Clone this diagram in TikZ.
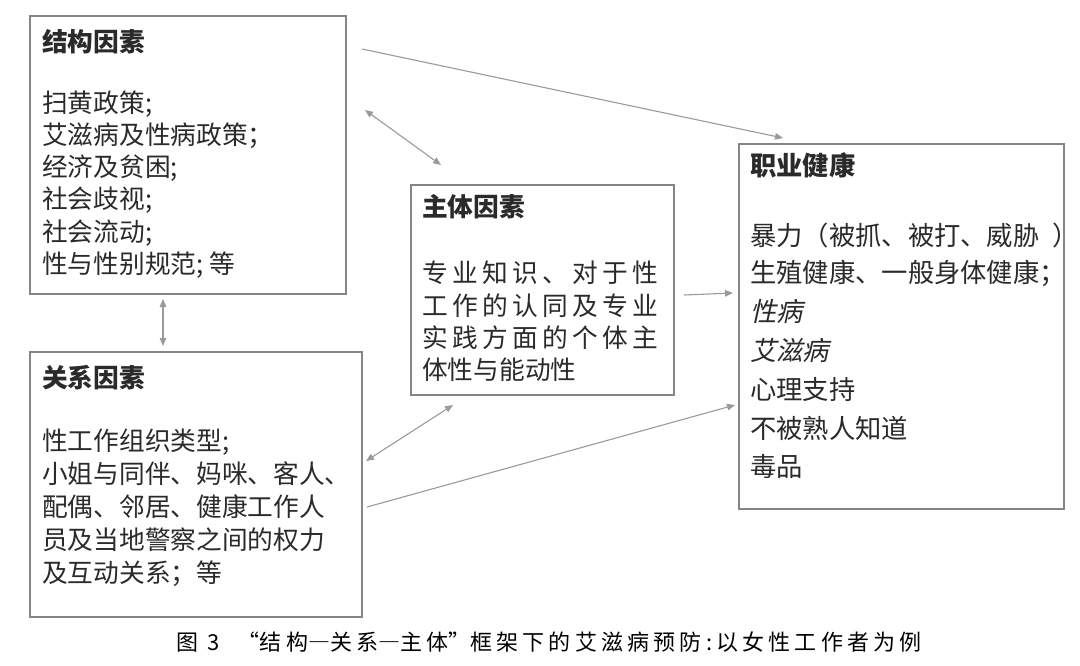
\documentclass[tikz,border=0pt]{standalone}
\usepackage{fontspec}
\setmainfont{Noto Sans CJK SC}
\newfontfamily\cjkit[FakeSlant=0.22]{Noto Sans CJK SC}
\newfontfamily\capfont[LetterSpace=19]{Noto Sans CJK SC}
\newfontfamily\capfw[LetterSpace=19,RawFeature=+fwid]{Noto Sans CJK SC}
\usetikzlibrary{arrows.meta}
\definecolor{boxc}{HTML}{858585}
\definecolor{arrc}{HTML}{9A9A9A}
\definecolor{textc}{HTML}{2A2A2A}
\tikzset{
  box/.style={draw=boxc, line width=1.6pt, anchor=north west, inner sep=0pt},
  txt/.style={anchor=base west, inner sep=0pt, text=textc, font=\fontsize{25.7}{30}\selectfont},
  rtxt/.style={anchor=base west, inner sep=0pt, text=textc, font=\fontsize{26.3}{30}\selectfont},
  ttl/.style={txt, font=\fontsize{25.7}{30}\selectfont\bfseries},
  conn/.style={draw=arrc, line width=1.1pt},
  one/.style={conn, -{Triangle[length=8pt,width=6.5pt]}},
  two/.style={conn, {Triangle[length=8pt,width=6.5pt]}-{Triangle[length=8pt,width=6.5pt]}}
}
\begin{document}
\begin{tikzpicture}[x=1pt,y=-1pt]
\fill[white] (0,0) rectangle (1080,666);
\useasboundingbox (0,0) rectangle (1080,666);

% boxes
\node[box, minimum width=316pt, minimum height=278pt] (jg) at (29,15) {};
\node[box, minimum width=332pt, minimum height=265pt] (gx) at (29,351) {};
\node[box, minimum width=263pt, minimum height=210pt] (zt) at (410,184) {};
\node[box, minimum width=325pt, minimum height=365pt] (zy) at (738,143) {};

% 结构因素
\node[ttl] (jgt) at (42,52) {结构因素};
\foreach \t [count=\i] in {扫黄政策;, 艾滋病及性病政策；, 经济及贫困;, 社会歧视;, 社会流动;, 性与性别规范; 等}
  \node[txt] (jg\i) at (42,{113+(\i-1)*32}) {\t};

% 关系因素
\node[ttl] (gxt) at (42,387) {关系因素};
\foreach \t [count=\i] in {性工作组织类型;, 小姐与同伴、妈咪、客人、, 配偶、邻居、健康工作人, 员及当地警察之间的权力, 及互动关系；等}
  \node[txt] (gx\i) at (42,{450+(\i-1)*33}) {\t};

% 主体因素
\node[ttl] (ztt) at (422,217) {主体因素};
\node[txt] (zt1) at (422,282) {\makebox[236pt][s]{专\hfill 业\hfill 知\hfill 识\hfill 、\hfill 对\hfill 于\hfill 性}};
\node[txt] (zt2) at (422,315) {\makebox[236pt][s]{工\hfill 作\hfill 的\hfill 认\hfill 同\hfill 及\hfill 专\hfill 业}};
\node[txt] (zt3) at (422,347) {\makebox[236pt][s]{实\hfill 践\hfill 方\hfill 面\hfill 的\hfill 个\hfill 体\hfill 主}};
\node[txt] (zt4) at (422,379) {体性与能动性};

% 职业健康
\node[ttl, font=\fontsize{26.3}{30}\selectfont\bfseries] (zyt) at (750,176) {职业健康};
\begin{scope}
\clip (zy.north west) rectangle (zy.south east);
\node[rtxt] (zy1) at (750,246) {暴力（被抓、被打、威胁\hspace{13pt}）};
\end{scope}
\draw[boxc, line width=1.6pt] (zy.north east) -- (zy.south east);
\node[rtxt] (zy2) at (750,282) {生殖健康、一般身体健康；};
\node[rtxt] (zy3) at (750,321) {\cjkit 性病};
\node[rtxt] (zy4) at (750,360) {\cjkit 艾滋病};
\node[rtxt] (zy5) at (750,399) {心理支持};
\node[rtxt] (zy6) at (750,438) {不被熟人知道};
\node[rtxt] (zy7) at (750,476) {毒品};

% connector ends
\coordinate (a1s) at (362,49);  \coordinate (a1e) at (783,138);
\coordinate (a2s) at (365,110); \coordinate (a2e) at (441,165);
\coordinate (a3s) at (163,299); \coordinate (a3e) at (163,346);
\coordinate (a4s) at (684,295); \coordinate (a4e) at (733,293);
\coordinate (a5s) at (366,461); \coordinate (a5e) at (453,405);
\coordinate (a6s) at (367,507); \coordinate (a6e) at (735,405);

\draw[one] (a1s) -- (a1e);
\draw[two] (a2s) -- (a2e);
\draw[two] (a3s) -- (a3e);
\draw[one] (a4s) -- (a4e);
\draw[two] (a5s) -- (a5e);
\draw[one] (a6s) -- (a6e);

% caption
\node[anchor=base, inner sep=0pt, text=black, font=\fontsize{22}{26}\selectfont\capfont] (cap) at (549,650) {图 3\ \ {\capfw “}结构{\capfw —}关系{\capfw —}主体{\capfw ”}框架下的艾滋病预防:以女性工作者为例};
\end{tikzpicture}
\end{document}
